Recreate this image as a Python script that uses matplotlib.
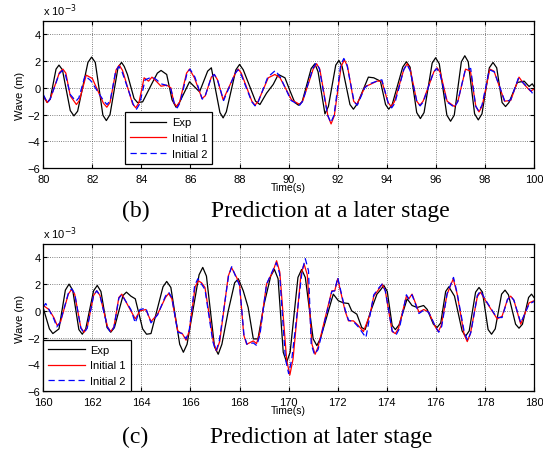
import numpy as np
import matplotlib
matplotlib.use("Agg")
import matplotlib.pyplot as plt

# values, wave in units of 1e-3 m
# (b) 80-100 s
t_exp_b = [80.0, 80.16, 80.28, 80.52, 80.64, 80.78, 81.1, 81.25, 81.4, 81.82, 81.97, 82.12, 82.43,
           82.57, 82.72, 83.05, 83.19, 83.3, 83.43, 83.7, 83.84, 84.05, 84.45, 84.65, 84.8, 85.03,
           85.25, 85.41, 85.55, 85.96, 86.37, 86.7, 86.85, 87.2, 87.33, 87.46, 87.85, 88.0, 88.15,
           88.65, 88.83, 89.1, 89.37, 89.58, 89.85, 90.05, 90.25, 90.4, 90.55, 90.92, 91.07, 91.2,
           91.48, 91.62, 91.92, 92.05, 92.18, 92.5, 92.64, 92.8, 93.25, 93.47, 93.74, 93.95, 94.08,
           94.22, 94.65, 94.8, 94.95, 95.22, 95.37, 95.52, 95.85, 95.99, 96.14, 96.45, 96.6, 96.75,
           97.04, 97.18, 97.32, 97.58, 97.73, 97.88, 98.18, 98.33, 98.48, 98.7, 98.84, 98.98, 99.32,
           99.6, 99.8, 99.93, 100.0]
v_exp_b = [-0.6, -1.1, -0.85, 1.4, 1.7, 1.35, -1.7, -2.1, -1.75, 1.9, 2.3, 1.9, -2.05,
           -2.45, -2.0, 1.55, 1.9, 1.6, 1.0, -0.8, -1.1, -1.05, 0.4, 1.1, 1.3, 1.0,
           -0.9, -1.45, -1.1, 0.45, -0.3, 1.25, 1.5, -1.85, -2.25, -1.8, 1.35, 1.75, 1.35,
           -1.0, -1.25, -0.4, 0.25, 1.0, 0.75, -0.2, -1.1, -1.3, -1.05, 1.45, 1.8, 1.2,
           -1.95, -1.4, 1.7, 2.05, 1.6, -1.25, -1.6, -1.2, 0.8, 0.75, 0.5, -1.25, -1.6,
           -1.25, 1.55, 1.95, 1.55, -1.85, -2.3, -1.85, 1.85, 2.25, 1.8, -2.05, -2.5, -2.05,
           1.95, 2.4, 1.95, -1.95, -2.4, -1.95, 1.5, 1.9, 1.5, -1.1, -1.4, -1.1, 0.4,
           0.5, 0.1, 0.3, 0.1]

t_in1_b = [80.0, 80.16, 80.28, 80.66, 80.8, 80.92, 81.1, 81.35, 81.47, 81.75, 82.0, 82.45, 82.59,
           82.72, 82.97, 83.1, 83.23, 83.64, 83.77, 83.9, 84.11, 84.29, 84.43, 84.6, 84.8, 85.03,
           85.2, 85.32, 85.44, 85.56, 85.84, 85.96, 86.16, 86.47, 86.6, 86.85, 86.97, 87.1, 87.33,
           87.83, 87.95, 88.07, 88.5, 88.63, 88.76, 89.17, 89.44, 89.65, 90.12, 90.46, 90.58, 91.0,
           91.14, 91.27, 91.6, 91.73, 91.86, 92.14, 92.27, 92.4, 92.65, 92.78, 93.12, 93.32, 93.6,
           93.8, 94.05, 94.18, 94.31, 94.7, 94.83, 94.96, 95.22, 95.35, 95.48, 95.92, 96.05, 96.18,
           96.46, 96.76, 96.9, 97.21, 97.41, 97.63, 97.76, 97.89, 98.2, 98.37, 98.8, 99.05, 99.39,
           99.6, 99.86, 100.0]
v_in1_b = [-0.6, -1.1, -0.85, 1.15, 1.4, 1.1, -0.6, -1.25, -0.95, 0.95, 0.7, -1.15, -1.45,
           -1.1, 1.35, 1.7, 1.3, -1.2, -1.5, -1.1, 0.75, 0.5, 0.8, 0.5, 0.12, 0.2,
           0.0, -1.1, -1.4, -1.05, 1.1, 1.4, 0.75, -0.8, -0.6, 0.8, 1.0, 0.6, -0.9,
           1.1, 1.4, 1.1, -1.0, -1.3, -1.0, 0.75, 1.0, 0.75, -0.9, -1.25, -0.95, 1.4,
           1.8, 1.4, -2.1, -2.7, -2.1, 1.6, 2.1, 1.6, -1.0, -1.25, 0.1, 0.25, 0.5,
           0.5, -1.1, -1.4, -1.05, 1.4, 1.8, 1.35, -1.0, -1.3, -1.0, 1.2, 1.5, 1.15,
           -1.0, -1.4, -1.0, 1.4, 1.25, -1.4, -1.8, -1.35, 1.4, 1.25, -1.0, -0.95, 0.8,
           0.25, -0.25, -0.1]

t_in2_b = [80.0, 80.16, 80.28, 80.65, 80.78, 80.9, 81.1, 81.33, 81.45, 81.7, 81.93, 82.47, 82.6,
           82.73, 82.95, 83.08, 83.21, 83.67, 83.8, 83.93, 84.15, 84.35, 84.5, 84.62, 84.8, 85.0,
           85.2, 85.34, 85.46, 85.58, 85.86, 85.98, 86.18, 86.48, 86.6, 86.85, 86.97, 87.1, 87.35,
           87.81, 87.93, 88.05, 88.5, 88.63, 88.76, 89.15, 89.46, 89.66, 90.1, 90.45, 90.57, 90.99,
           91.12, 91.25, 91.59, 91.72, 91.85, 92.12, 92.25, 92.38, 92.67, 92.8, 93.1, 93.3, 93.6,
           93.8, 94.07, 94.2, 94.33, 94.69, 94.82, 94.95, 95.23, 95.36, 95.49, 95.9, 96.03, 96.16,
           96.45, 96.75, 96.89, 97.2, 97.42, 97.62, 97.75, 97.88, 98.18, 98.38, 98.82, 99.05, 99.36,
           99.6, 99.9, 100.0]
v_in2_b = [-0.5, -1.1, -0.85, 1.05, 1.3, 1.0, -0.5, -1.0, -0.75, 0.9, 0.55, -1.0, -1.25,
           -0.95, 1.25, 1.6, 1.2, -1.25, -1.6, -1.2, 0.6, 0.75, 0.75, 0.6, 0.3, 0.2,
           -0.1, -1.15, -1.5, -1.1, 1.1, 1.4, 0.8, -0.85, -0.6, 0.8, 1.0, 0.6, -0.95,
           1.05, 1.35, 1.05, -1.05, -1.35, -1.05, 0.8, 1.3, 0.8, -0.95, -1.3, -1.0, 1.45,
           1.85, 1.45, -2.05, -2.6, -2.05, 1.7, 2.2, 1.7, -1.05, -1.3, 0.0, 0.3, 0.5,
           0.6, -1.2, -1.5, -1.15, 1.35, 1.75, 1.3, -1.05, -1.35, -1.05, 1.15, 1.45, 1.1,
           -1.05, -1.45, -1.05, 1.35, 1.45, -1.35, -1.75, -1.3, 1.35, 1.2, -1.05, -0.9, 0.7,
           0.3, -0.3, -0.6]

# (c) 160-180 s
t_exp_c = [160.0, 160.25, 160.39, 160.64, 160.9, 161.05, 161.2, 161.45, 161.59, 161.73, 162.05,
           162.2, 162.35, 162.6, 162.75, 162.9, 163.25, 163.39, 163.57, 163.75, 164.05, 164.21,
           164.39, 164.88, 165.03, 165.2, 165.56, 165.71, 165.86, 166.35, 166.5, 166.65, 166.98,
           167.13, 167.28, 167.54, 167.8, 167.95, 168.15, 168.35, 168.56, 168.75, 169.0, 169.27,
           169.42, 169.57, 169.78, 169.92, 170.06, 170.38, 170.53, 170.68, 171.0, 171.15, 171.3,
           171.82, 172.03, 172.23, 172.44, 172.57, 172.78, 172.98, 173.12, 173.33, 173.6, 173.74,
           173.88, 174.02, 174.22, 174.35, 174.5, 174.83, 175.03, 175.24, 175.5, 175.65, 175.9,
           176.05, 176.2, 176.4, 176.53, 176.76, 177.07, 177.21, 177.36, 177.62, 177.76, 177.9,
           178.13, 178.27, 178.42, 178.68, 178.82, 178.96, 179.25, 179.39, 179.53, 179.78, 179.9,
           180.0]
v_exp_c = [0.2, -1.35, -1.7, -1.35, 1.55, 2.0, 1.55, -1.4, -1.75, -1.35, 1.5,
           1.9, 1.45, -1.25, -1.6, -1.25, 1.15, 1.4, 1.1, 0.9, -1.35, -1.75,
           -1.7, 1.8, 2.2, 1.75, -2.5, -3.1, -2.5, 2.7, 3.25, 2.6, -2.7,
           -3.25, -2.5, 0.0, 2.1, 2.4, 1.5, 0.25, -2.1, -2.1, 0.5, 2.6,
           3.1, 2.4, -3.1, -3.85, -3.1, 2.5, 3.1, 2.5, -2.1, -2.6, -2.05,
           1.25, 0.75, 0.6, 0.55, 0.0, -0.25, -1.25, -1.4, -0.1, 1.25, 1.55,
           1.9, 1.45, -1.1, -1.4, -1.05, 0.9, 0.4, 0.25, 0.4, 0.1, -1.0,
           -1.25, -0.9, 1.45, 1.8, 1.1, -1.5, -1.9, -1.5, 1.4, 1.75, 1.4,
           -1.4, -1.75, -1.35, 1.25, 1.55, 1.2, -1.0, -1.3, -1.0, 1.0, 1.25,
           1.0]

t_in1_c = [160.0, 160.23, 160.43, 160.57, 160.7, 161.02, 161.15, 161.28, 161.53, 161.66, 161.79,
           162.05, 162.18, 162.31, 162.62, 162.75, 162.88, 163.08, 163.2, 163.57, 163.75, 163.94,
           164.18, 164.39, 164.66, 164.98, 165.11, 165.24, 165.48, 165.68, 165.82, 165.95, 166.19,
           166.32, 166.45, 166.59, 166.93, 167.06, 167.19, 167.54, 167.67, 167.88, 168.0, 168.17,
           168.29, 168.56, 168.69, 168.82, 169.1, 169.37, 169.51, 169.64, 169.92, 170.05, 170.18,
           170.5, 170.63, 170.76, 170.95, 171.08, 171.2, 171.76, 171.88, 172.0, 172.3, 172.44,
           172.64, 172.84, 173.05, 173.32, 173.47, 173.67, 173.81, 173.94, 174.22, 174.35, 174.48,
           174.8, 174.9, 175.03, 175.31, 175.51, 175.71, 175.98, 176.1, 176.22, 176.46, 176.71,
           176.87, 177.15, 177.28, 177.41, 177.69, 177.82, 178.03, 178.5, 178.7, 178.92, 179.05,
           179.18, 179.46, 179.8, 180.0]
v_in1_c = [0.4, 0.1, -0.5, -1.1, -0.85, 1.25, 1.6, 1.25, -1.25, -1.6, -1.25,
           1.15, 1.5, 1.15, -1.2, -1.55, -1.2, 1.0, 1.25, 0.0, -0.6, 0.0,
           0.1, -0.8, -0.25, 1.0, 1.3, 0.9, -1.5, -1.75, -2.2, -1.5, 1.8,
           2.25, 2.1, 1.75, -2.3, -3.0, -2.3, 2.6, 3.25, 2.5, 2.0, -1.8,
           -2.5, -2.25, -2.45, -1.7, 2.0, 3.0, 3.75, 2.9, -3.7, -4.8, -3.6,
           2.7, 3.5, 2.7, -2.5, -3.25, -2.7, 1.5, 1.5, 2.4, 0.0, -0.75,
           -0.75, -1.1, -1.55, -0.25, 1.1, 1.6, 2.0, 1.5, -1.55, -1.7, -1.3,
           1.1, 0.9, 1.25, -0.1, 0.1, -0.1, -1.2, -1.55, -1.1, 1.25, 2.4,
           1.25, -1.75, -2.3, -1.7, 1.05, 1.4, 0.75, -0.6, -0.4, 0.85, 1.1,
           0.8, -1.0, 0.6, 0.75]

t_in2_c = [160.0, 160.1, 160.43, 160.55, 160.68, 161.02, 161.15, 161.28, 161.53, 161.66, 161.79,
           162.05, 162.18, 162.31, 162.62, 162.75, 162.88, 163.08, 163.2, 163.57, 163.75, 163.94,
           164.18, 164.39, 164.66, 164.98, 165.11, 165.24, 165.48, 165.68, 165.82, 165.95, 166.17,
           166.3, 166.45, 166.59, 166.91, 167.04, 167.17, 167.55, 167.68, 167.88, 168.0, 168.18,
           168.3, 168.56, 168.7, 168.83, 169.1, 169.37, 169.5, 169.63, 169.87, 170.0, 170.13,
           170.55, 170.68, 170.81, 170.92, 171.05, 171.2, 171.76, 171.88, 172.0, 172.3, 172.44,
           172.64, 172.84, 173.15, 173.32, 173.47, 173.67, 173.81, 173.94, 174.22, 174.38, 174.51,
           174.8, 174.9, 175.03, 175.31, 175.51, 175.71, 176.0, 176.12, 176.24, 176.46, 176.72,
           176.87, 177.17, 177.3, 177.43, 177.69, 177.82, 178.03, 178.48, 178.7, 178.92, 179.05,
           179.18, 179.46, 179.8, 180.0]
v_in2_c = [0.3, 0.55, -0.6, -1.2, -0.9, 1.3, 1.65, 1.3, -1.3, -1.65, -1.3,
           1.15, 1.5, 1.15, -1.25, -1.6, -1.25, 0.95, 1.2, 0.1, -0.9, 0.1,
           0.2, -0.9, -0.3, 1.1, 1.4, 1.0, -1.6, -1.7, -2.1, -1.45, 1.9,
           2.4, 2.0, 1.6, -2.3, -3.0, -2.3, 2.6, 3.3, 2.4, 1.9, -1.8,
           -2.5, -2.4, -2.6, -1.8, 2.0, 3.1, 3.6, 2.8, -3.6, -4.7, -3.6,
           3.0, 3.9, 3.0, -2.5, -3.25, -2.9, 1.45, 1.5, 2.5, 0.1, -0.7,
           -0.8, -1.2, -2.0, -0.3, 1.2, 1.7, 2.0, 1.5, -1.5, -1.8, -1.35,
           1.2, 0.9, 1.2, -0.2, 0.05, -0.1, -1.25, -1.6, -1.15, 1.3, 2.5,
           1.3, -1.7, -2.2, -1.6, 1.15, 1.5, 0.8, -0.5, -0.5, 0.85, 1.1,
           0.8, -0.9, 0.5, 0.7]

plt.rcParams['font.family'] = ['Liberation Sans', 'DejaVu Sans']
fig = plt.figure(figsize=(5.43, 4.52), dpi=100)


def panel(rect, t0, t1, exp, in1, in2, leg_anchor):
    ax = fig.add_axes(rect)
    ax.plot(exp[0], exp[1], color='k', lw=0.9, label='Exp')
    ax.plot(in1[0], in1[1], color='r', lw=0.9, label='Initial 1')
    ax.plot(in2[0], in2[1], color='b', lw=0.9, ls=(0, (5, 3)), label='Initial 2')
    ax.set_xlim(t0, t1)
    ax.set_ylim(-6, 5)
    ax.set_xticks(np.arange(t0, t1 + 1, 2))
    ax.set_yticks([-6, -4, -2, 0, 2, 4])
    ax.set_yticklabels(['\u22126', '\u22124', '\u22122', '0', '2', '4'])
    ax.grid(True, ls=':', color='0.35', lw=0.6)
    ax.tick_params(direction='in', top=True, right=True, labelsize=8, length=3)
    ax.tick_params(axis='x', pad=4)
    ax.tick_params(axis='y', pad=2)
    for s in ax.spines.values():
        s.set_linewidth(0.9)
    ax.set_ylabel('Wave (m)', fontsize=8, labelpad=2)
    ax.set_xlabel('Time(s)', fontsize=7.5, labelpad=-1)
    ax.text(0.0, 1.02, 'x 10$^{-3}$', transform=ax.transAxes, fontsize=8, va='bottom')
    leg = ax.legend(loc='lower left', bbox_to_anchor=leg_anchor, fontsize=8, fancybox=False,
                    framealpha=1, edgecolor='k', handlelength=3.3, borderpad=0.45,
                    labelspacing=0.5, handletextpad=0.5, borderaxespad=0)
    leg.get_frame().set_linewidth(0.9)
    return ax


panel([0.0797, 0.6261, 0.9037, 0.3252], 80, 100,
      (t_exp_b, v_exp_b), (t_in1_b, v_in1_b), (t_in2_b, v_in2_b), (0.166, 0.03))
panel([0.0797, 0.1327, 0.9037, 0.3252], 160, 180,
      (t_exp_c, v_exp_c), (t_in1_c, v_in1_c), (t_in2_c, v_in2_c), (0.0, 0.0))

fig.text(0.225, 0.532, '(b)', family='Liberation Serif', fontsize=17, va='center')
fig.text(0.388, 0.532, 'Prediction at a later stage', family='Liberation Serif', fontsize=17, va='center')
fig.text(0.225, 0.032, '(c)', family='Liberation Serif', fontsize=17, va='center')
fig.text(0.386, 0.032, 'Prediction at later stage', family='Liberation Serif', fontsize=17, va='center')

fig.savefig('out.png', dpi=100)
